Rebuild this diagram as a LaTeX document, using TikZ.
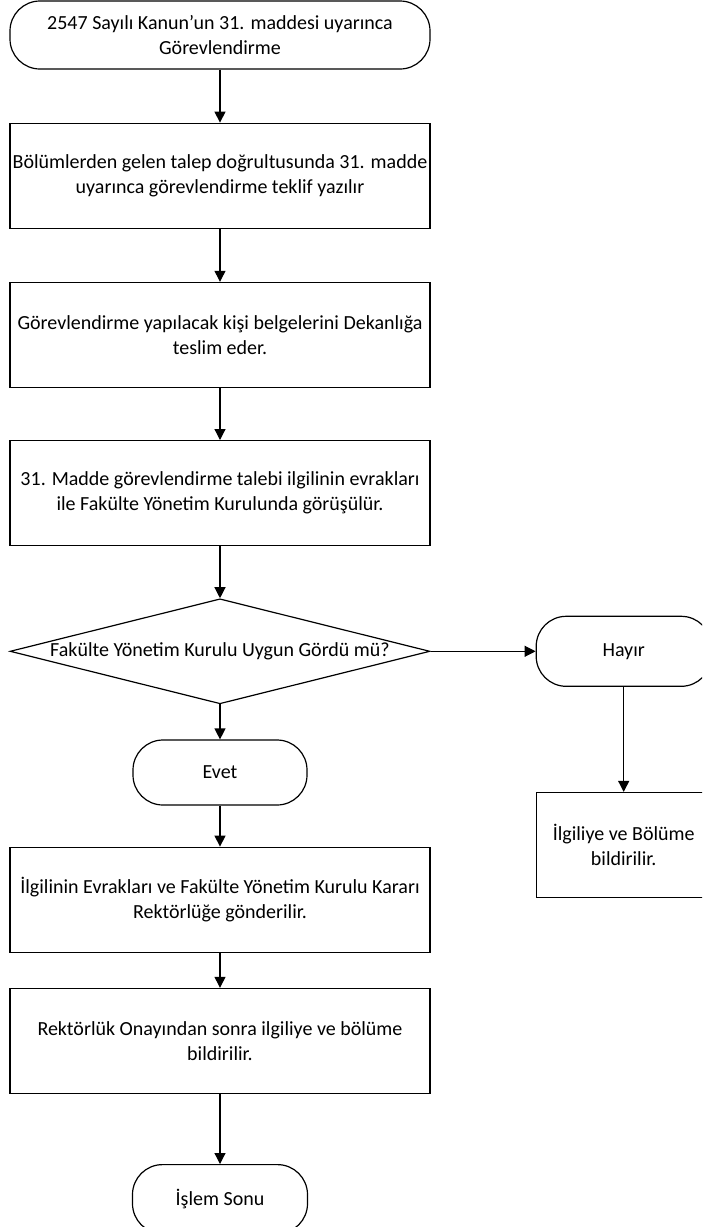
\documentclass[tikz,border=0pt]{standalone}
\usepackage{fontspec}
\setmainfont{Carlito}
\usetikzlibrary{positioning,arrows.meta,shapes.geometric}

\begin{document}
\begin{tikzpicture}[
      x=1pt, y=1pt,
      every node/.style={font=\fontsize{20}{25}\selectfont, align=center},
      terminal/.style={draw, line width=1.2pt, rounded corners=30pt,
                       minimum height=68pt, inner sep=2pt},
      process/.style={draw, line width=1.2pt, minimum width=420pt,
                      minimum height=105pt, inner sep=2pt},
      decision/.style={draw, line width=1.2pt, diamond, aspect=4, inner sep=0pt,
                       minimum width=420pt, minimum height=105pt},
      arr/.style={-{Triangle[length=11pt,width=11pt]}, line width=1.2pt}
  ]
    \useasboundingbox (0,0) rectangle (702,-1227);
    \clip (0,0) rectangle (702,-1227);
    \node[terminal, minimum width=420pt] (start) at (220,-35) {2547 Sayılı Kanun’un 31. maddesi uyarınca\\Görevlendirme};
    \node[process, below=53pt of start] (teklif) {Bölümlerden gelen talep doğrultusunda 31. madde\\uyarınca görevlendirme teklif yazılır};
    \node[process, below=53pt of teklif] (belge) {Görevlendirme yapılacak kişi belgelerini Dekanlığa\\teslim eder.};
    \node[process, below=52pt of belge] (kurul) {31. Madde görevlendirme talebi ilgilinin evrakları\\ile Fakülte Yönetim Kurulunda görüşülür.};
    \node[decision, below=52pt of kurul] (uygun) {Fakülte Yönetim Kurulu Uygun Gördü mü?};
    \node[terminal, minimum width=174pt, minimum height=65pt, below=35pt of uygun] (evet) {Evet};
    \node[process, below=41pt of evet] (rektor) {İlgilinin Evrakları ve Fakülte Yönetim Kurulu Kararı\\Rektörlüğe gönderilir.};
    \node[process, below=35pt of rektor] (onay) {Rektörlük Onayından sonra ilgiliye ve bölüme\\bildirilir.};
    \node[terminal, minimum width=175pt, minimum height=69pt, below=70pt of onay] (son) {İşlem Sonu};
    \node[terminal, minimum width=175pt, minimum height=70pt, right=105pt of uygun] (hayir) {Hayır};
    \node[process, minimum width=175pt, below=105pt of hayir] (bildir) {İlgiliye ve Bölüme\\bildirilir.};
    \draw[arr] (start) -- (teklif);
    \draw[arr] (teklif) -- (belge);
    \draw[arr] (belge) -- (kurul);
    \draw[arr] (kurul) -- (uygun);
    \draw[arr] (uygun) -- (evet);
    \draw[arr] (evet) -- (rektor);
    \draw[arr] (rektor) -- (onay);
    \draw[arr] (onay) -- (son);
    \draw[arr] (uygun) -- (hayir);
    \draw[arr] (hayir) -- (bildir);
  \end{tikzpicture}
\end{document}
